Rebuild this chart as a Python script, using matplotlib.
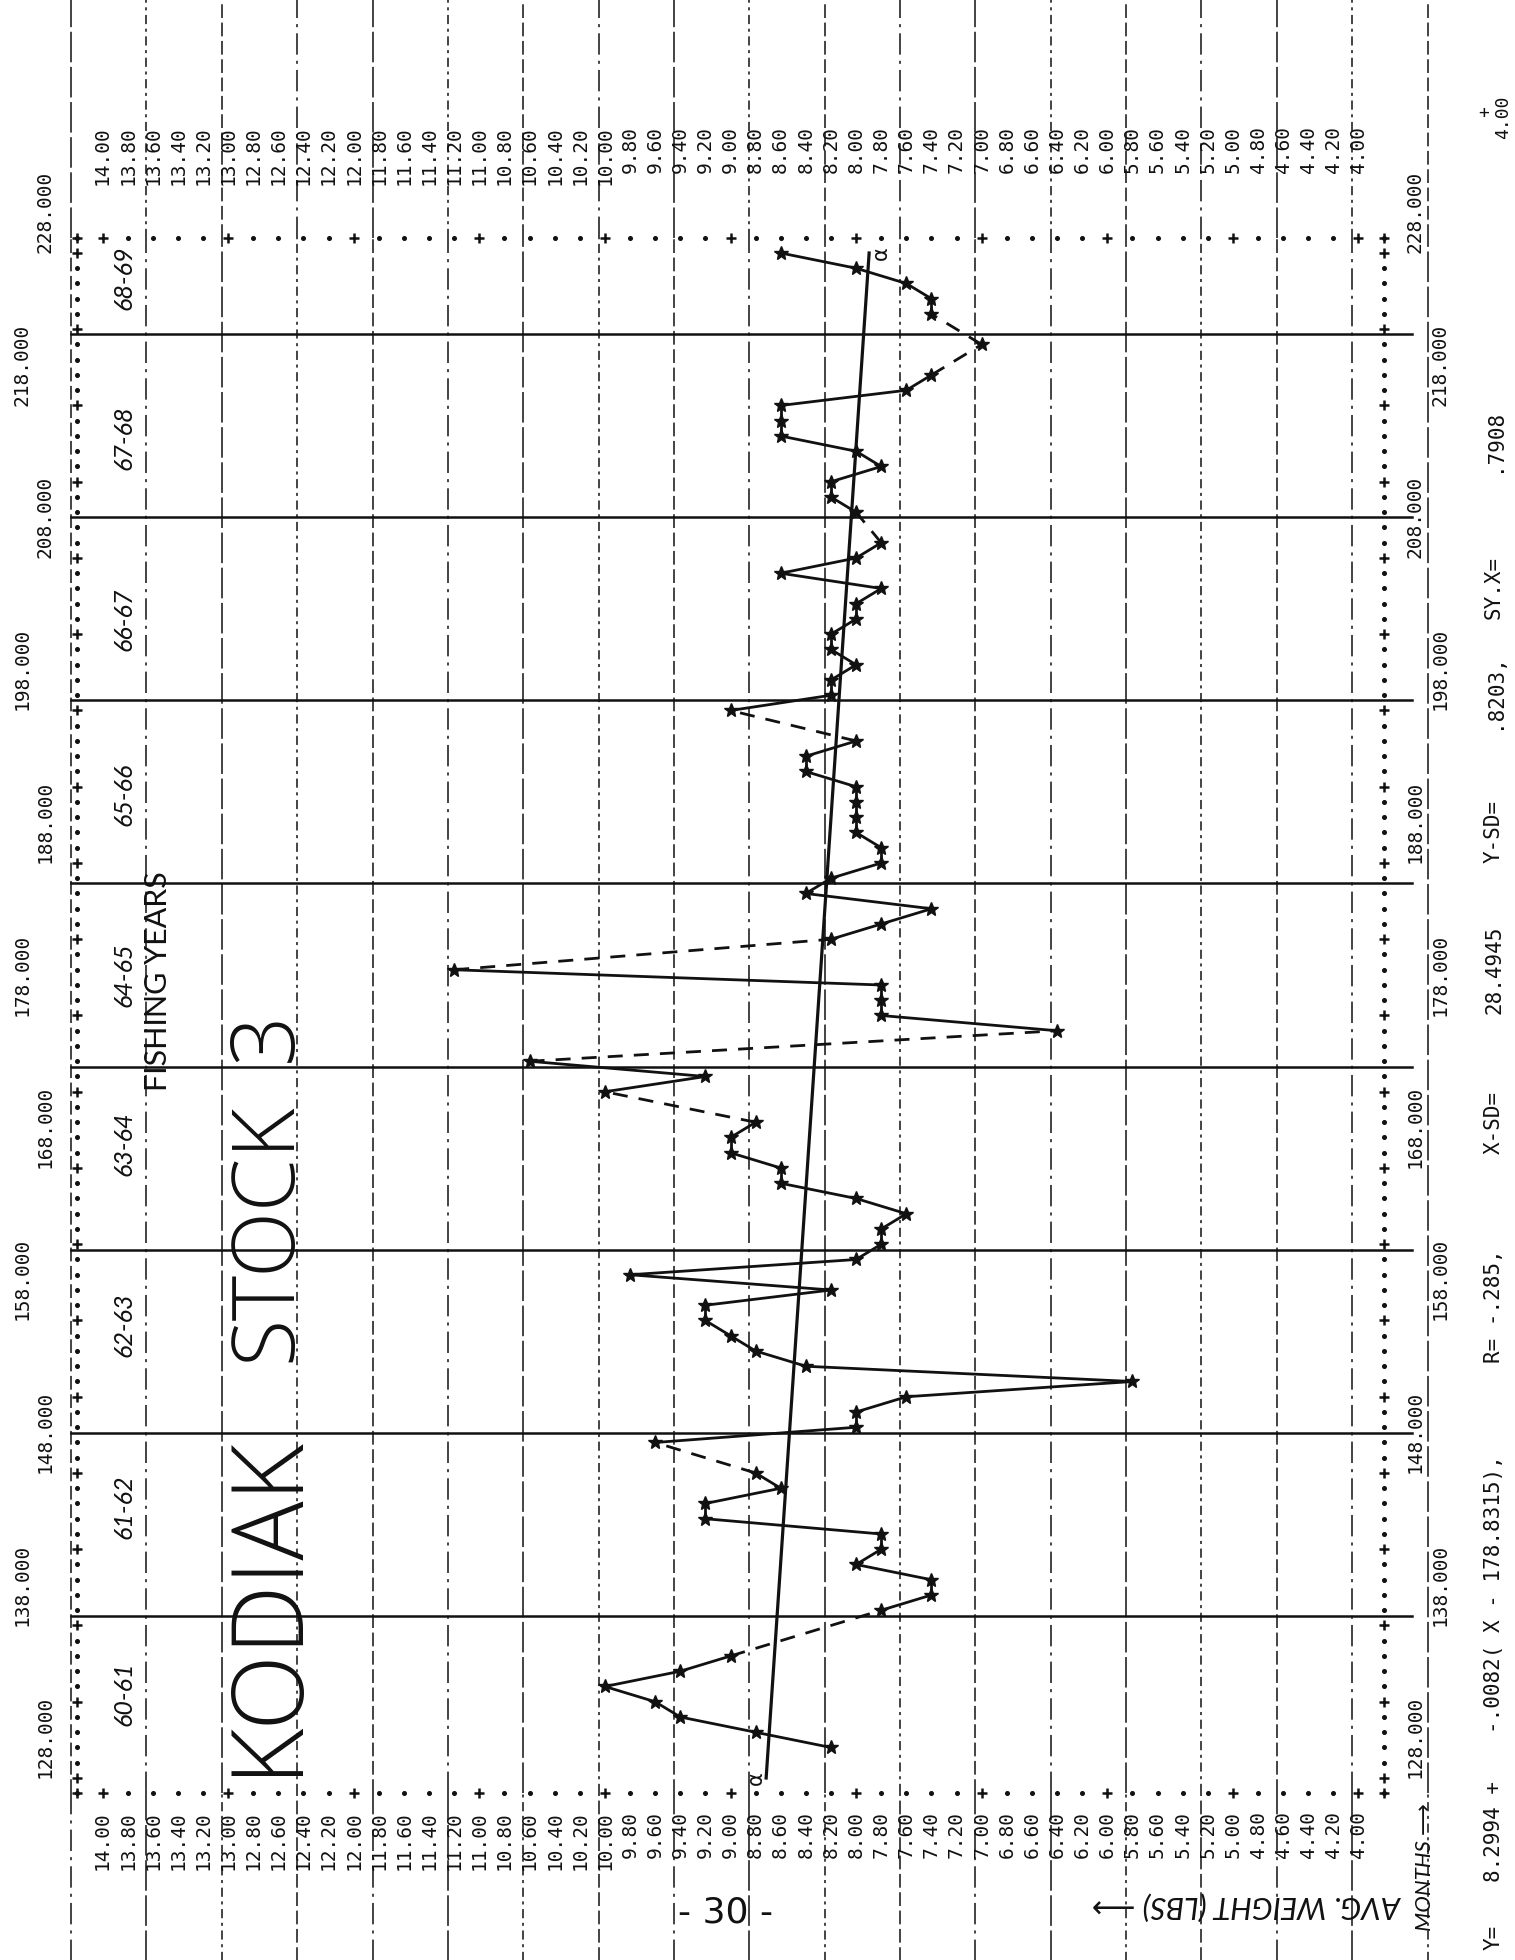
import numpy as np
import matplotlib
matplotlib.use("Agg")
import matplotlib.pyplot as plt
from matplotlib.transforms import blended_transform_factory as blend

# ---------------- data: Kodiak stock 3, monthly average weight ----------------
months = [130, 131, 132, 133, 134, 135, 136,
          139, 140, 141, 142, 143, 144, 145, 146, 147, 148,
          150, 151, 152, 153, 154, 155, 156, 157, 158, 159, 160, 161, 162,
          163, 164, 165, 166, 167, 168, 169, 170, 171, 173, 174,
          175, 177, 178, 179, 180, 181, 183, 184, 185, 186,
          187, 188, 189, 190, 191, 192, 193, 194, 195, 196,
          198, 199, 200, 201, 202, 203, 204, 205, 206, 207, 208, 209,
          211, 212, 213, 214, 215, 216, 217, 218, 219, 220, 222,
          224, 225, 226, 227, 228]
avg_weight = [8.2, 8.8, 9.4, 9.6, 10.0, 9.4, 9.0,
              7.8, 7.4, 7.4, 8.0, 7.8, 7.8, 9.2, 9.2, 8.6, 8.8,
              9.6, 8.0, 8.0, 7.6, 5.8, 8.4, 8.8, 9.0, 9.2, 9.2, 8.2, 9.8, 8.0,
              7.8, 7.8, 7.6, 8.0, 8.6, 8.6, 9.0, 9.0, 8.8, 10.0, 9.2,
              10.6, 6.4, 7.8, 7.8, 7.8, 11.2, 8.2, 7.8, 7.4, 8.4,
              8.2, 7.8, 7.8, 8.0, 8.0, 8.0, 8.0, 8.4, 8.4, 8.0,
              9.0, 8.2, 8.2, 8.0, 8.2, 8.2, 8.0, 8.0, 7.8, 8.6, 8.0, 7.8,
              8.0, 8.2, 8.2, 7.8, 8.0, 8.6, 8.6, 8.6, 7.6, 7.4, 7.0,
              7.4, 7.4, 7.6, 8.0, 8.6]

# least-squares fit printed by the program
reg_intercept = 8.2994
reg_slope = -0.0082
reg_xmean = 178.8315
reg_month_range = [128, 228]
reg_pieces = ["Y=", "8.2994 +", "-.0082( X - 178.8315),", "R= -.285,",
              "X-SD=", "28.4945", "Y-SD=", ".8203,", "SY.X=", ".7908"]

# axis labels of the printer plot
weight_labels = ["%.2f" % (14.0 - 0.2 * i) for i in range(51)]
month_ticks = [128, 138, 148, 158, 168, 178, 188, 198, 208, 218, 228]

# fishing years
season_labels = ["60-61", "61-62", "62-63", "63-64", "64-65",
                 "65-66", "66-67", "67-68", "68-69"]
season_label_month = [133.5, 145.8, 157.7, 169.6, 180.7, 192.5, 204.0, 215.9, 226.4]
season_bounds = [138.65, 150.65, 162.65, 174.65, 186.7, 198.7, 210.7, 222.7]

# ---------------- figure ----------------
W, H, DPI = 1515, 1960, 100
fig = plt.figure(figsize=(W / DPI, H / DPI), dpi=DPI, facecolor="white")

# page layer in pixel units (y grows downwards)
page = fig.add_axes([0, 0, 1, 1])
page.set_xlim(0, W)
page.set_ylim(H, 0)
page.axis("off")

# plot layer: weight runs right-to-left, months bottom-to-top
X0, X1 = 77.4, 1383.6     # pixel columns of the 14.2 / 3.8 frame
Y0, Y1 = 1793.25, 237.75  # pixel rows of the month 127 / 229 frame
ax = fig.add_axes([X0 / W, 1 - Y0 / H, (X1 - X0) / W, (Y0 - Y1) / H])
ax.set_xlim(14.2, 3.8)
ax.set_ylim(127, 229)
ax.axis("off")
ax.patch.set_alpha(0)

INK = "#111111"
MONO = ["DejaVu Sans Mono"]
HAND = ["Lato", "DejaVu Sans"]
TITLE = ["Open Sans", "DejaVu Sans"]

tw = blend(ax.transData, page.transData)   # x = weight, y = pixel
tm = blend(page.transData, ax.transData)   # x = pixel, y = month

# ruled lines of the paper, every three print lines
styles = [(0, (9, 3)), (0, (14, 4, 2, 4)), (0, (20, 3)), (0, (6, 3, 2, 3))]
vtrans = blend(ax.transData, ax.transAxes)
for k in range(19):
    w = 14.25 - 0.6 * k
    ax.plot([w, w], [0, 1], transform=vtrans, color=INK, lw=1.1,
            ls=styles[k % 4], clip_on=False, zorder=1)
    ax.plot([w, w], [-0.11, 0], transform=vtrans, color=INK, lw=1.1,
            ls=styles[(k + 1) % 4], clip_on=False, zorder=1)
    ax.plot([w, w], [1, 1.16], transform=vtrans, color=INK, lw=1.1,
            ls=styles[(k + 2) % 4], clip_on=False, zorder=1)

# dotted printer frame
frame_w = np.round(np.arange(14.2, 3.79, -0.2), 1)
dot_w = [w for w in frame_w if abs(w - round(w)) > 1e-6]
plus_w = [w for w in frame_w if abs(w - round(w)) < 1e-6] + [14.2, 3.8]
for m in (127, 229):
    ax.plot(dot_w, [m] * len(dot_w), ls="none", marker="o", ms=2.6, color=INK,
            clip_on=False, zorder=3)
    ax.plot(plus_w, [m] * len(plus_w), ls="none", marker="+", ms=7, mew=1.8,
            color=INK, clip_on=False, zorder=3)
frame_m = np.arange(128, 229)
dot_m = [m for m in frame_m if (m - 128) % 5]
plus_m = [m for m in frame_m if (m - 128) % 5 == 0]
for w in (14.2, 3.8):
    ax.plot([w] * len(dot_m), dot_m, ls="none", marker="o", ms=2.6, color=INK,
            clip_on=False, zorder=3)
    ax.plot([w] * len(plus_m), plus_m, ls="none", marker="+", ms=7, mew=1.8,
            color=INK, clip_on=False, zorder=3)

# hand-drawn fishing-year separators
for b in season_bounds:
    ax.plot([14.25, 3.57], [b, b], color=INK, lw=1.8, clip_on=False, zorder=2)

# regression line and its printed end marks
reg_y = [reg_intercept + reg_slope * (x - reg_xmean) for x in reg_month_range]
ax.plot(reg_y, reg_month_range, color=INK, lw=2.3, zorder=4)
for x, y in zip(reg_month_range, reg_y):
    ax.text(round(y / 0.2) * 0.2, x, "α", rotation=90, fontsize=15,
            ha="center", va="center", color=INK, family=["DejaVu Sans"], zorder=5)

# monthly weights: solid within consecutive months, dashed across gaps
for i in range(len(months) - 1):
    gap = months[i + 1] - months[i] > 1
    ax.plot(avg_weight[i:i + 2], months[i:i + 2], color=INK, lw=2.0,
            ls=(0, (5.4, 4)) if gap else "-", zorder=4, solid_capstyle="round")
ax.plot(avg_weight, months, ls="none", marker="*", ms=10, color=INK, zorder=5)

# weight labels below and above the frame
for i, lab in enumerate(weight_labels):
    w = 14.0 - 0.2 * i
    ax.text(w, 1811, lab, transform=tw, rotation=90, rotation_mode="anchor",
            ha="right", va="center", fontsize=14, family=MONO, color=INK)
    ax.text(w, 126, lab, transform=tw, rotation=90, rotation_mode="anchor",
            ha="right", va="center", fontsize=14, family=MONO, color=INK)

# month labels on both sides
for j, m in enumerate(month_ticks):
    xl = 45 if j % 2 == 0 else 22
    xr = 1415 if j % 2 == 0 else 1440
    for xx in (xl, xr):
        ax.text(xx, m, "%.3f" % m, transform=tm, rotation=90,
                rotation_mode="anchor", ha="left", va="center",
                fontsize=14, family=MONO, color=INK)

# stray print at the upper right corner of the sheet
page.text(1484, 113, "+", ha="center", va="center", fontsize=13,
          family=MONO, color=INK)
page.text(1503, 117, "4.00", rotation=90, ha="center", va="center",
          fontsize=13, family=MONO, color=INK)

# fishing-year notes
for lab, m in zip(season_labels, season_label_month):
    ax.text(124, m, lab, transform=tm, rotation=90, ha="center", va="center",
            fontsize=18, family=HAND, style="italic", color=INK)
page.text(158, 981, "FISHING YEARS", rotation=90, ha="center", va="center",
          fontsize=22, family=HAND, color=INK)

# title written across the plot
for txt, y0, fs in (("KODIAK", 1775, 71), ("STOCK", 1362, 62), ("3", 1062, 64)):
    page.text(268, y0, txt, rotation=90, ha="center", va="bottom",
              fontsize=fs, family=TITLE, fontweight=300, color=INK)

# axis names
page.text(1425, 1931, "MONTHS ⟶", rotation=90, ha="center", va="bottom",
          fontsize=16, family=HAND, style="italic", color=INK)
page.text(1248, 1906, "AVG. WEIGHT (LBS) ⟶", rotation=180, ha="center",
          va="center", fontsize=22, family=HAND, style="italic", color=INK)

# regression statement, printed along the right edge
reg_center = [1937, 1831, 1594, 1306, 1122, 970, 831, 691, 587, 440]
for txt, y in zip(reg_pieces, reg_center):
    page.text(1494, y, txt, rotation=90, ha="center", va="center",
              fontsize=15, family=MONO, color=INK)

# page number
page.text(725, 1912, "- 30 -", ha="center", va="center", fontsize=26,
          family=["DejaVu Sans"], color=INK)

fig.savefig("out.png", dpi=DPI, facecolor="white")
